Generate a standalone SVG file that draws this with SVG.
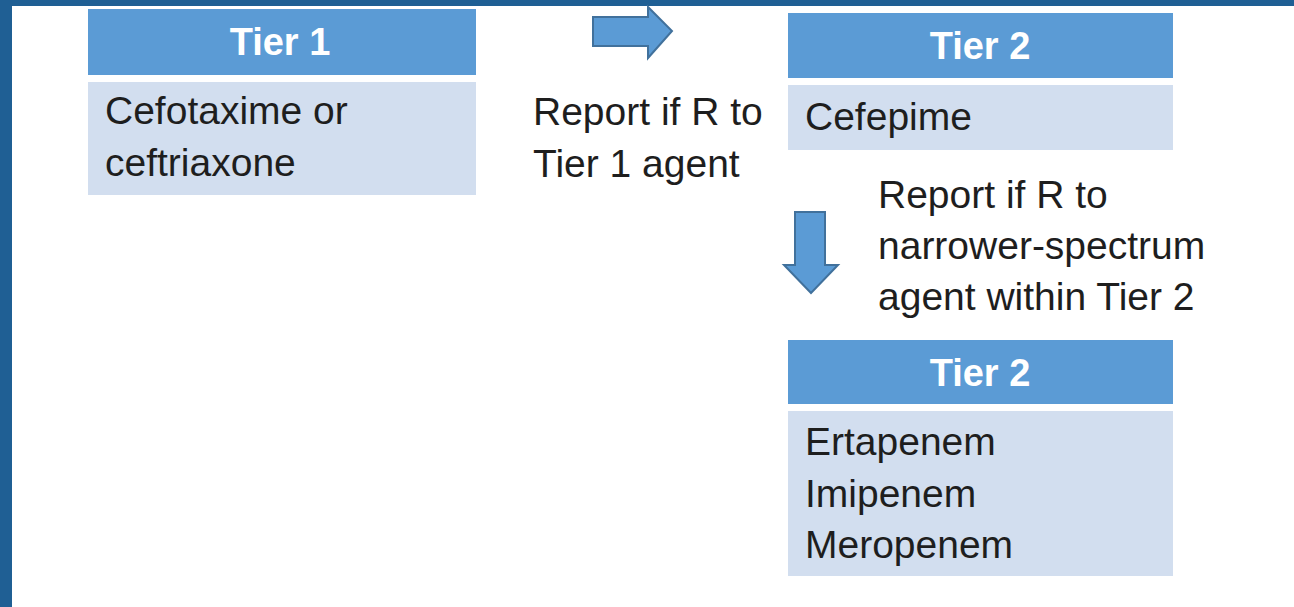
<svg xmlns="http://www.w3.org/2000/svg" width="1294" height="607" viewBox="0 0 1294 607">
  <style>
    .hdr { fill: #5B9BD5; }
    .body { fill: #D2DEEF; }
    .ht { font-family: "Liberation Sans", Arial, sans-serif; font-weight: bold; font-size: 38px; fill: #FFFFFF; text-anchor: middle; }
    .bt { font-family: "Liberation Sans", Arial, sans-serif; font-size: 39px; fill: #1E1E1E; }
    .arrow { fill: #5B9BD5; stroke: #41719C; stroke-width: 2; stroke-linejoin: miter; }
  </style>
  <rect x="0" y="0" width="1294" height="607" fill="#FFFFFF"/>
  <rect x="0" y="0" width="1294" height="6" fill="#1F5F94"/>
  <rect x="0" y="0" width="12" height="607" fill="#1F5F94"/>

  <g id="tier1">
    <rect class="hdr" x="88" y="9" width="388" height="66"/>
    <text class="ht" x="280" y="55">Tier 1</text>
    <rect class="body" x="88" y="82" width="388" height="113"/>
    <text class="bt" x="105" y="124">Cefotaxime or</text>
    <text class="bt" x="105" y="176">ceftriaxone</text>
  </g>

  <g id="tier2-cefepime">
    <rect class="hdr" x="788" y="13" width="385" height="65"/>
    <text class="ht" x="980" y="59">Tier 2</text>
    <rect class="body" x="788" y="85" width="385" height="65"/>
    <text class="bt" x="805" y="130">Cefepime</text>
  </g>

  <g id="tier2-carbapenems">
    <rect class="hdr" x="788" y="340" width="385" height="64"/>
    <text class="ht" x="980" y="386">Tier 2</text>
    <rect class="body" x="788" y="411" width="385" height="165"/>
    <text class="bt" x="805" y="455">Ertapenem</text>
    <text class="bt" x="805" y="507">Imipenem</text>
    <text class="bt" x="805" y="558">Meropenem</text>
  </g>

  <g id="connectors">
    <polygon class="arrow" points="593,17 648,17 648,7 672,31 648,58 648,46 593,46"/>
    <polygon class="arrow" points="795,212 825,212 825,265 838,265 811,293 784,265 795,265"/>
  </g>

  <g id="labels">
    <text class="bt" x="533" y="125">Report if R to</text>
    <text class="bt" x="533" y="177">Tier 1 agent</text>
    <text class="bt" x="878" y="208">Report if R to</text>
    <text class="bt" x="878" y="259">narrower-spectrum</text>
    <text class="bt" x="878" y="310">agent within Tier 2</text>
  </g>
</svg>
